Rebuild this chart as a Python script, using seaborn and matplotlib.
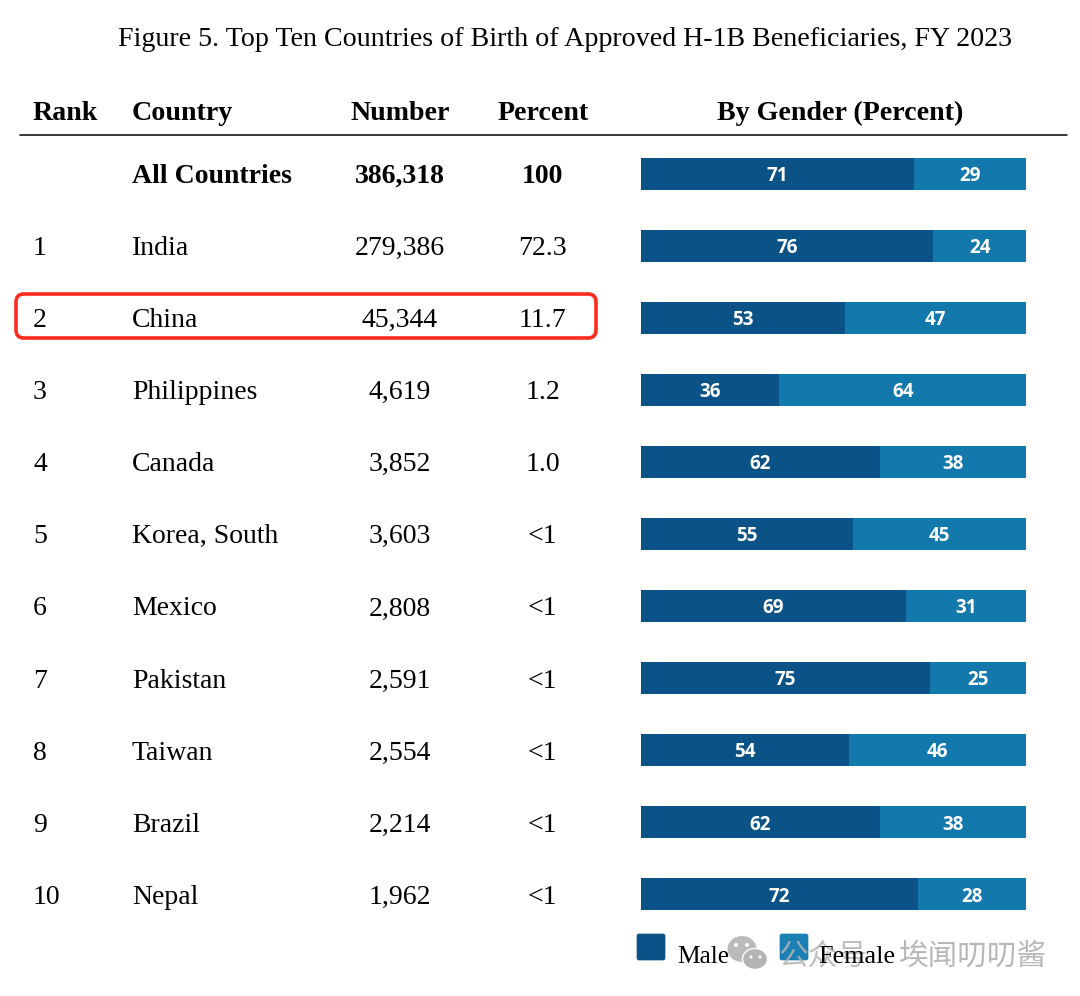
import matplotlib
matplotlib.use("Agg")
import matplotlib.pyplot as plt
from matplotlib.patches import Ellipse, FancyBboxPatch
from matplotlib.transforms import blended_transform_factory
import pandas as pd
import seaborn as sns

# Table data
ranks = ["", "1", "2", "3", "4", "5", "6", "7", "8", "9", "10"]
countries = ["All Countries", "India", "China", "Philippines", "Canada", "Korea, South",
             "Mexico", "Pakistan", "Taiwan", "Brazil", "Nepal"]
numbers = ["386,318", "279,386", "45,344", "4,619", "3,852", "3,603",
           "2,808", "2,591", "2,554", "2,214", "1,962"]
percents = ["100", "72.3", "11.7", "1.2", "1.0", "<1", "<1", "<1", "<1", "<1", "<1"]
male = [71, 76, 53, 36, 62, 55, 69, 75, 54, 62, 72]
female = [29, 24, 47, 64, 38, 45, 31, 25, 46, 38, 28]

MALE_COLOR = "#0B5286"
FEMALE_COLOR = "#1378AC"
W, H = 1080, 996

sns.set_theme(style="white")
plt.rcParams["font.family"] = ["Liberation Serif", "Noto Sans CJK SC", "DejaVu Sans"]


def fx(x):
    return x / W


def fy(y):
    return 1 - y / H


df = pd.DataFrame({"country": countries, "male": male, "female": female})
df["total"] = df["male"] + df["female"]

fig = plt.figure(figsize=(W / 100, H / 100), dpi=100, facecolor="white")

# Bars sit in an axes lined up with the table rows
ax = fig.add_axes([fx(640.5), fy(930.5), (1026 - 640.5) / W, (930 - 137) / H])
sns.barplot(data=df, y="country", x="total", color=FEMALE_COLOR, saturation=1, width=0.444,
            linewidth=0, ax=ax)
sns.barplot(data=df, y="country", x="male", color=MALE_COLOR, saturation=1, width=0.444,
            linewidth=0, ax=ax)
ax.set_xlim(0, 100)
ax.set_ylim(10.5, -0.5)
ax.axis("off")

for i, (m, f) in enumerate(zip(male, female)):
    ax.text(m / 2, i + 0.03, str(m), color="white", ha="center", va="center",
            fontsize=13.5, fontweight="bold", family="Open Sans")
    ax.text(m + f / 2, i + 0.03, str(f), color="white", ha="center", va="center",
            fontsize=13.5, fontweight="bold", family="Open Sans")

# Table text: x in figure units, y follows the bar rows
row = blended_transform_factory(fig.transFigure, ax.transData)
BASE = 0.13
for i in range(len(countries)):
    weight = "bold" if i == 0 else "normal"
    kw = dict(transform=row, fontsize=20, color="black", va="baseline",
              fontweight=weight, clip_on=False)
    ax.text(fx(33), i + BASE, ranks[i], ha="left", **kw)
    ax.text(fx(132), i + BASE, countries[i], ha="left", **kw)
    ax.text(fx(399.5), i + BASE, numbers[i], ha="center", **kw)
    ax.text(fx(542.5), i + BASE, percents[i], ha="center", **kw)

# Title and header
fig.text(fx(565.5), fy(46), "Figure 5. Top Ten Countries of Birth of Approved H-1B Beneficiaries, FY 2023",
         ha="center", va="baseline", fontsize=20.2, color="black")
headers = [("Rank", 33, "left"), ("Country", 132, "left"), ("Number", 400, "center"),
           ("Percent", 543, "center"), ("By Gender (Percent)", 840, "center")]
for label, x, align in headers:
    fig.text(fx(x), fy(120), label, ha=align, va="baseline", fontsize=20.2, fontweight="bold", color="black")
fig.add_artist(plt.Line2D([fx(20), fx(1067)], [fy(135), fy(135)], color="black", lw=1.1))

# Everything below is laid out in pixels
pix = fig.add_axes([0, 0, 1, 1], zorder=5)
pix.set_xlim(0, W)
pix.set_ylim(H, 0)
pix.axis("off")

# Red box around the China row
pix.add_patch(FancyBboxPatch((21, 299), 570, 34, boxstyle="round,pad=5,rounding_size=8",
                             fill=False, ec="#FF2B1F", lw=2.6))

# Legend
pix.add_patch(FancyBboxPatch((638, 935), 26, 24, boxstyle="round,pad=1,rounding_size=2",
                             fc=MALE_COLOR, ec=MALE_COLOR, lw=0.5))
pix.add_patch(FancyBboxPatch((781, 935), 26, 24, boxstyle="round,pad=1,rounding_size=2",
                             fc="#1A7FB2", ec="#1A7FB2", lw=0.5))

# Watermark, under the legend labels
GREY = "#B4B4B4"
pix.add_patch(Ellipse((742, 949), 29, 26, fc=GREY, ec="none", alpha=0.9))
pix.add_patch(Ellipse((755, 959), 25, 21, fc=GREY, ec="white", lw=1))
for x, y, s in [(736, 945, 4), (747, 945, 4), (751, 957, 3), (760, 957, 3)]:
    pix.add_patch(Ellipse((x, y), s, s, fc="white", ec="none"))
pix.text(778, 965, "公众号", fontsize=21.3, color=GREY, va="baseline", alpha=0.85, zorder=4)
pix.text(899, 965, "埃闻叨叨酱", fontsize=21.3, color=GREY, va="baseline", alpha=0.95, zorder=4)

pix.text(677, 963, "Male", fontsize=18.3, color="black", va="baseline", zorder=5)
pix.text(818, 963, "Female", fontsize=18.8, color="black", va="baseline", zorder=5)

fig.savefig("out.png", dpi=100)
